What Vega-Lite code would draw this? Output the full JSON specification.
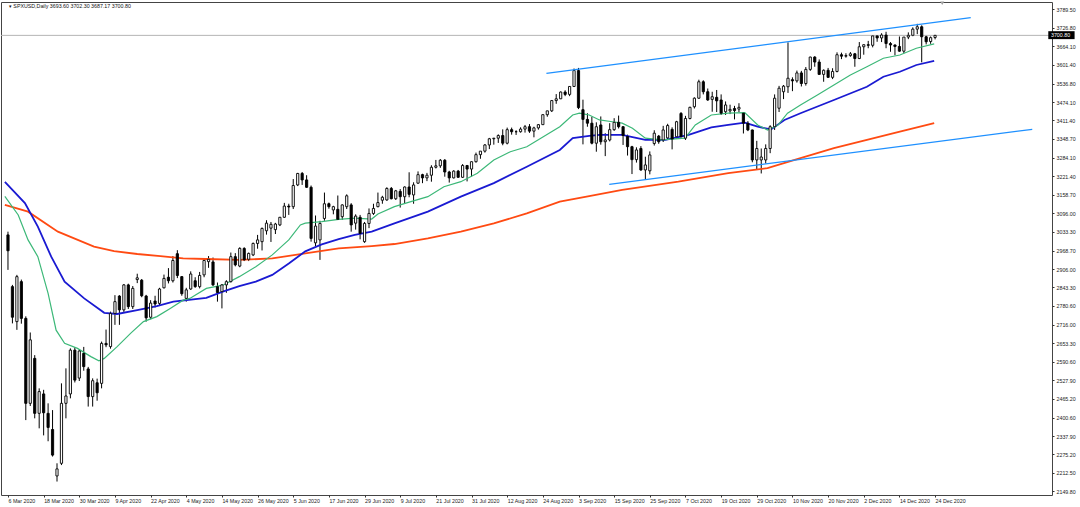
{
  "$schema": "https://vega.github.io/schema/vega-lite/v6.json",
  "width": 1051,
  "height": 493,
  "autosize": {"type": "none"},
  "padding": {"left": 1, "top": 2, "right": 28, "bottom": 12},
  "background": "white",
  "config": {
    "font": "Liberation Sans",
    "view": {"stroke": "#444", "strokeWidth": 1},
    "axis": {"labelOverlap": false, "labelFlush": false, "labelBound": false, "grid": false, "domain": false, "title": null, "tickSize": 2, "tickColor": "#333", "labelFontSize": 5.3, "labelColor": "#222"}
  },
  "datasets": {
    "bars": [
      {"i":0,"o":3022,"h":3033,"l":2903,"c":2968},{"i":1,"o":2846,"h":2852,"l":2721,"c":2742},{"i":2,"o":2727,"h":2886,"l":2699,"c":2880},{"i":3,"o":2863,"h":2870,"l":2720,"c":2738},
      {"i":4,"o":2738,"h":2745,"l":2392,"c":2449},{"i":5,"o":2449,"h":2690,"l":2440,"c":2665},{"i":6,"o":2602,"h":2613,"l":2398,"c":2415},{"i":7,"o":2415,"h":2500,"l":2364,"c":2489},
      {"i":8,"o":2481,"h":2495,"l":2340,"c":2417},{"i":9,"o":2415,"h":2449,"l":2320,"c":2367},{"i":10,"o":2360,"h":2426,"l":2268,"c":2273},{"i":11,"o":2202,"h":2245,"l":2183,"c":2226},
      {"i":12,"o":2245,"h":2517,"l":2239,"c":2449},{"i":13,"o":2449,"h":2568,"l":2398,"c":2474},{"i":14,"o":2481,"h":2636,"l":2466,"c":2630},{"i":15,"o":2630,"h":2640,"l":2520,"c":2528},
      {"i":16,"o":2535,"h":2632,"l":2525,"c":2627},{"i":17,"o":2619,"h":2641,"l":2560,"c":2574},{"i":18,"o":2566,"h":2573,"l":2438,"c":2472},{"i":19,"o":2472,"h":2534,"l":2438,"c":2526},
      {"i":20,"o":2519,"h":2533,"l":2458,"c":2485},{"i":21,"o":2517,"h":2659,"l":2500,"c":2653},{"i":22,"o":2653,"h":2700,"l":2640,"c":2648},{"i":23,"o":2642,"h":2761,"l":2635,"c":2755},
      {"i":24,"o":2755,"h":2817,"l":2716,"c":2795},{"i":25,"o":2814,"h":2817,"l":2716,"c":2767},{"i":26,"o":2767,"h":2855,"l":2760,"c":2852},{"i":27,"o":2852,"h":2856,"l":2770,"c":2778},
      {"i":28,"o":2778,"h":2848,"l":2770,"c":2840},{"i":29,"o":2870,"h":2890,"l":2858,"c":2876},{"i":30,"o":2868,"h":2872,"l":2810,"c":2815},{"i":31,"o":2814,"h":2818,"l":2727,"c":2740},
      {"i":32,"o":2742,"h":2800,"l":2735,"c":2790},{"i":33,"o":2797,"h":2815,"l":2775,"c":2787},{"i":34,"o":2789,"h":2842,"l":2780,"c":2838},{"i":35,"o":2842,"h":2887,"l":2840,"c":2874},
      {"i":36,"o":2878,"h":2909,"l":2857,"c":2866},{"i":37,"o":2866,"h":2950,"l":2860,"c":2935},{"i":38,"o":2958,"h":2970,"l":2875,"c":2884},{"i":39,"o":2880,"h":2882,"l":2815,"c":2822},
      {"i":40,"o":2806,"h":2842,"l":2795,"c":2835},{"i":41,"o":2838,"h":2898,"l":2835,"c":2889},{"i":42,"o":2866,"h":2878,"l":2842,"c":2846},{"i":43,"o":2846,"h":2896,"l":2840,"c":2884},
      {"i":44,"o":2886,"h":2940,"l":2878,"c":2935},{"i":45,"o":2931,"h":2950,"l":2910,"c":2939},{"i":46,"o":2930,"h":2945,"l":2848,"c":2852},{"i":47,"o":2846,"h":2860,"l":2795,"c":2826},
      {"i":48,"o":2829,"h":2855,"l":2772,"c":2852},{"i":49,"o":2852,"h":2868,"l":2825,"c":2863},{"i":50,"o":2863,"h":2962,"l":2860,"c":2948},{"i":51,"o":2948,"h":2960,"l":2915,"c":2920},
      {"i":52,"o":2916,"h":2980,"l":2912,"c":2976},{"i":53,"o":2976,"h":2980,"l":2933,"c":2937},{"i":54,"o":2939,"h":2962,"l":2933,"c":2959},{"i":55,"o":2954,"h":2996,"l":2950,"c":2993},
      {"i":56,"o":2993,"h":3022,"l":2975,"c":3005},{"i":57,"o":2999,"h":3047,"l":2969,"c":3044},{"i":58,"o":3036,"h":3072,"l":3023,"c":3062},{"i":59,"o":3045,"h":3066,"l":2998,"c":3058},
      {"i":60,"o":3040,"h":3063,"l":3025,"c":3059},{"i":61,"o":3056,"h":3083,"l":3052,"c":3082},{"i":62,"o":3082,"h":3131,"l":3080,"c":3120},{"i":63,"o":3120,"h":3128,"l":3090,"c":3117},
      {"i":64,"o":3118,"h":3212,"l":3110,"c":3190},{"i":65,"o":3192,"h":3233,"l":3188,"c":3231},{"i":66,"o":3231,"h":3236,"l":3192,"c":3209},{"i":67,"o":3209,"h":3225,"l":3182,"c":3184},
      {"i":68,"o":3184,"h":3190,"l":2999,"c":3010},{"i":69,"o":2995,"h":3088,"l":2984,"c":3052},{"i":70,"o":3005,"h":3070,"l":2937,"c":3061},{"i":71,"o":3078,"h":3166,"l":3070,"c":3128},
      {"i":72,"o":3128,"h":3132,"l":3111,"c":3118},{"i":73,"o":3107,"h":3121,"l":3092,"c":3118},{"i":74,"o":3109,"h":3156,"l":3073,"c":3075},{"i":75,"o":3084,"h":3126,"l":3073,"c":3124},
      {"i":76,"o":3118,"h":3160,"l":3110,"c":3155},{"i":77,"o":3124,"h":3130,"l":3033,"c":3056},{"i":78,"o":3062,"h":3092,"l":3040,"c":3086},{"i":79,"o":3082,"h":3090,"l":3007,"c":3027},
      {"i":80,"o":2999,"h":3066,"l":2995,"c":3061},{"i":81,"o":3061,"h":3112,"l":3045,"c":3095},{"i":82,"o":3095,"h":3128,"l":3090,"c":3112},{"i":83,"o":3118,"h":3166,"l":3116,"c":3132},
      {"i":84,"o":3140,"h":3155,"l":3128,"c":3150},{"i":85,"o":3141,"h":3184,"l":3138,"c":3180},{"i":86,"o":3180,"h":3185,"l":3143,"c":3145},{"i":87,"o":3145,"h":3175,"l":3141,"c":3172},
      {"i":88,"o":3170,"h":3178,"l":3115,"c":3152},{"i":89,"o":3152,"h":3187,"l":3129,"c":3185},{"i":90,"o":3185,"h":3235,"l":3150,"c":3160},{"i":91,"o":3158,"h":3201,"l":3128,"c":3192},
      {"i":92,"o":3198,"h":3238,"l":3196,"c":3227},{"i":93,"o":3227,"h":3230,"l":3198,"c":3216},{"i":94,"o":3216,"h":3233,"l":3205,"c":3225},{"i":95,"o":3225,"h":3259,"l":3203,"c":3252},
      {"i":96,"o":3252,"h":3277,"l":3248,"c":3257},{"i":97,"o":3257,"h":3280,"l":3250,"c":3276},{"i":98,"o":3276,"h":3280,"l":3220,"c":3236},{"i":99,"o":3236,"h":3240,"l":3200,"c":3216},
      {"i":100,"o":3216,"h":3242,"l":3214,"c":3239},{"i":101,"o":3239,"h":3243,"l":3216,"c":3218},{"i":102,"o":3218,"h":3263,"l":3216,"c":3258},{"i":103,"o":3258,"h":3260,"l":3204,"c":3246},
      {"i":104,"o":3246,"h":3272,"l":3220,"c":3271},{"i":105,"o":3271,"h":3302,"l":3268,"c":3295},{"i":106,"o":3295,"h":3307,"l":3281,"c":3307},{"i":107,"o":3307,"h":3331,"l":3302,"c":3328},
      {"i":108,"o":3328,"h":3352,"l":3314,"c":3349},{"i":109,"o":3349,"h":3352,"l":3329,"c":3351},{"i":110,"o":3351,"h":3364,"l":3335,"c":3360},{"i":111,"o":3360,"h":3381,"l":3327,"c":3334},
      {"i":112,"o":3334,"h":3387,"l":3330,"c":3380},{"i":113,"o":3380,"h":3387,"l":3363,"c":3373},{"i":114,"o":3373,"h":3378,"l":3362,"c":3373},{"i":115,"o":3373,"h":3388,"l":3370,"c":3382},
      {"i":116,"o":3382,"h":3396,"l":3370,"c":3390},{"i":117,"o":3390,"h":3399,"l":3369,"c":3375},{"i":118,"o":3375,"h":3390,"l":3354,"c":3386},{"i":119,"o":3386,"h":3399,"l":3380,"c":3397},
      {"i":120,"o":3397,"h":3432,"l":3396,"c":3431},{"i":121,"o":3431,"h":3444,"l":3424,"c":3444},{"i":122,"o":3444,"h":3481,"l":3440,"c":3479},{"i":123,"o":3479,"h":3501,"l":3468,"c":3485},
      {"i":124,"o":3485,"h":3510,"l":3484,"c":3508},{"i":125,"o":3508,"h":3514,"l":3494,"c":3500},{"i":126,"o":3500,"h":3528,"l":3494,"c":3527},{"i":127,"o":3527,"h":3588,"l":3525,"c":3581},
      {"i":128,"o":3581,"h":3590,"l":3450,"c":3455},{"i":129,"o":3448,"h":3482,"l":3330,"c":3415},{"i":130,"o":3415,"h":3436,"l":3390,"c":3402},{"i":131,"o":3402,"h":3424,"l":3330,"c":3334},
      {"i":132,"o":3334,"h":3405,"l":3305,"c":3390},{"i":133,"o":3396,"h":3425,"l":3329,"c":3339},{"i":134,"o":3339,"h":3368,"l":3290,"c":3345},{"i":135,"o":3345,"h":3402,"l":3340,"c":3380},
      {"i":136,"o":3380,"h":3419,"l":3376,"c":3405},{"i":137,"o":3405,"h":3428,"l":3384,"c":3390},{"i":138,"o":3390,"h":3392,"l":3328,"c":3360},{"i":139,"o":3357,"h":3363,"l":3292,"c":3322},
      {"i":140,"o":3322,"h":3325,"l":3229,"c":3278},{"i":141,"o":3278,"h":3320,"l":3268,"c":3311},{"i":142,"o":3316,"h":3324,"l":3240,"c":3243},{"i":143,"o":3243,"h":3288,"l":3212,"c":3260},
      {"i":144,"o":3240,"h":3306,"l":3228,"c":3294},{"i":145,"o":3333,"h":3378,"l":3326,"c":3368},{"i":146,"o":3358,"h":3362,"l":3332,"c":3339},{"i":147,"o":3345,"h":3393,"l":3338,"c":3379},
      {"i":148,"o":3352,"h":3400,"l":3348,"c":3394},{"i":149,"o":3381,"h":3388,"l":3313,"c":3348},{"i":150,"o":3356,"h":3410,"l":3350,"c":3407},{"i":151,"o":3435,"h":3440,"l":3354,"c":3356},
      {"i":152,"o":3351,"h":3427,"l":3345,"c":3418},{"i":153,"o":3418,"h":3458,"l":3415,"c":3456},{"i":154,"o":3458,"h":3490,"l":3452,"c":3487},{"i":155,"o":3487,"h":3550,"l":3485,"c":3543},
      {"i":156,"o":3543,"h":3548,"l":3500,"c":3509},{"i":157,"o":3509,"h":3520,"l":3478,"c":3481},{"i":158,"o":3483,"h":3509,"l":3441,"c":3492},{"i":159,"o":3490,"h":3515,"l":3440,"c":3478},
      {"i":160,"o":3481,"h":3500,"l":3430,"c":3436},{"i":161,"o":3441,"h":3476,"l":3430,"c":3464},{"i":162,"o":3444,"h":3465,"l":3433,"c":3449},{"i":163,"o":3452,"h":3461,"l":3415,"c":3445},
      {"i":164,"o":3450,"h":3470,"l":3440,"c":3456},{"i":165,"o":3436,"h":3440,"l":3367,"c":3402},{"i":166,"o":3402,"h":3409,"l":3375,"c":3379},{"i":167,"o":3379,"h":3380,"l":3269,"c":3277},
      {"i":168,"o":3277,"h":3342,"l":3245,"c":3316},{"i":169,"o":3277,"h":3316,"l":3231,"c":3287},{"i":170,"o":3277,"h":3330,"l":3265,"c":3316},{"i":171,"o":3316,"h":3395,"l":3300,"c":3390},
      {"i":172,"o":3390,"h":3500,"l":3379,"c":3487},{"i":173,"o":3453,"h":3529,"l":3440,"c":3521},{"i":174,"o":3509,"h":3532,"l":3484,"c":3528},{"i":175,"o":3526,"h":3677,"l":3505,"c":3555},
      {"i":176,"o":3550,"h":3558,"l":3511,"c":3546},{"i":177,"o":3546,"h":3581,"l":3540,"c":3573},{"i":178,"o":3573,"h":3580,"l":3527,"c":3537},{"i":179,"o":3537,"h":3593,"l":3530,"c":3585},
      {"i":180,"o":3585,"h":3628,"l":3580,"c":3627},{"i":181,"o":3627,"h":3630,"l":3594,"c":3610},{"i":182,"o":3610,"h":3619,"l":3567,"c":3568},{"i":183,"o":3568,"h":3585,"l":3543,"c":3582},
      {"i":184,"o":3582,"h":3590,"l":3556,"c":3558},{"i":185,"o":3558,"h":3589,"l":3552,"c":3578},{"i":186,"o":3578,"h":3643,"l":3575,"c":3635},{"i":187,"o":3635,"h":3642,"l":3620,"c":3630},
      {"i":188,"o":3630,"h":3640,"l":3625,"c":3632},{"i":189,"o":3632,"h":3644,"l":3628,"c":3638},{"i":190,"o":3638,"h":3641,"l":3594,"c":3622},{"i":191,"o":3622,"h":3678,"l":3620,"c":3662},
      {"i":192,"o":3662,"h":3670,"l":3635,"c":3669},{"i":193,"o":3669,"h":3682,"l":3657,"c":3667},{"i":194,"o":3667,"h":3700,"l":3660,"c":3699},{"i":195,"o":3699,"h":3702,"l":3679,"c":3692},
      {"i":196,"o":3692,"h":3708,"l":3678,"c":3702},{"i":197,"o":3702,"h":3713,"l":3657,"c":3673},{"i":198,"o":3673,"h":3678,"l":3645,"c":3668},{"i":199,"o":3668,"h":3670,"l":3633,"c":3663},
      {"i":200,"o":3663,"h":3697,"l":3645,"c":3647},{"i":201,"o":3647,"h":3695,"l":3640,"c":3695},{"i":202,"o":3695,"h":3711,"l":3688,"c":3701},{"i":203,"o":3701,"h":3728,"l":3698,"c":3722},
      {"i":204,"o":3722,"h":3740,"l":3705,"c":3730},{"i":205,"o":3730,"h":3735,"l":3609,"c":3696},{"i":206,"o":3696,"h":3702,"l":3670,"c":3679},{"i":207,"o":3680,"h":3697,"l":3672,"c":3693},
      {"i":208,"o":3693.6,"h":3702.3,"l":3687.17,"c":3700.8}
    ],
    "ma": [
      {"m":"r","i":-0.7,"v":3124},{"m":"r","i":4.5,"v":3101},{"m":"r","i":11.2,"v":3033},{"m":"r","i":19.3,"v":2982},{"m":"r","i":23.8,"v":2967},{"m":"r","i":29,"v":2957},
      {"m":"r","i":34.2,"v":2950},{"m":"r","i":39.3,"v":2942},{"m":"r","i":44.4,"v":2940},{"m":"r","i":51.9,"v":2937},{"m":"r","i":59.3,"v":2942},{"m":"r","i":66.7,"v":2959},
      {"m":"r","i":74.2,"v":2976},{"m":"r","i":81.6,"v":2984},{"m":"r","i":86.7,"v":2991},{"m":"r","i":94.2,"v":3010},{"m":"r","i":101.6,"v":3033},{"m":"r","i":109,"v":3061},
      {"m":"r","i":116.4,"v":3095},{"m":"r","i":123.8,"v":3135},{"m":"r","i":130.4,"v":3154},{"m":"r","i":137.8,"v":3175},{"m":"r","i":150.4,"v":3203},{"m":"r","i":161.6,"v":3232},
      {"m":"r","i":170.4,"v":3249},{"m":"r","i":177.8,"v":3283},{"m":"r","i":185.3,"v":3317},{"m":"r","i":192.7,"v":3345},{"m":"r","i":200.1,"v":3373},{"m":"r","i":207.8,"v":3402},
      {"m":"b","i":-0.7,"v":3202},{"m":"b","i":3.8,"v":3130},{"m":"b","i":6.7,"v":3050},{"m":"b","i":9.7,"v":2948},{"m":"b","i":12.7,"v":2863},{"m":"b","i":17.1,"v":2806},
      {"m":"b","i":21.6,"v":2757},{"m":"b","i":24.5,"v":2753},{"m":"b","i":29,"v":2766},{"m":"b","i":33.4,"v":2780},{"m":"b","i":37.1,"v":2795},{"m":"b","i":44.5,"v":2808},
      {"m":"b","i":48.2,"v":2829},{"m":"b","i":51.9,"v":2848},{"m":"b","i":55.6,"v":2863},{"m":"b","i":59.3,"v":2886},{"m":"b","i":63,"v":2925},{"m":"b","i":66.7,"v":2966},
      {"m":"b","i":70.4,"v":2990},{"m":"b","i":74.2,"v":3008},{"m":"b","i":77.8,"v":3022},{"m":"b","i":81.6,"v":3033},{"m":"b","i":86.7,"v":3061},{"m":"b","i":94.2,"v":3101},
      {"m":"b","i":101.6,"v":3152},{"m":"b","i":109,"v":3198},{"m":"b","i":116.4,"v":3254},{"m":"b","i":123.8,"v":3311},{"m":"b","i":126.7,"v":3351},{"m":"b","i":130.4,"v":3359},
      {"m":"b","i":132.7,"v":3362},{"m":"b","i":137.8,"v":3362},{"m":"b","i":143,"v":3345},{"m":"b","i":147.5,"v":3345},{"m":"b","i":152.7,"v":3362},{"m":"b","i":157.8,"v":3388},
      {"m":"b","i":161.6,"v":3396},{"m":"b","i":165.3,"v":3404},{"m":"b","i":168.2,"v":3390},{"m":"b","i":171.2,"v":3381},{"m":"b","i":174.2,"v":3413},{"m":"b","i":177.8,"v":3436},
      {"m":"b","i":185.3,"v":3481},{"m":"b","i":192.7,"v":3526},{"m":"b","i":196.4,"v":3560},{"m":"b","i":200.1,"v":3577},{"m":"b","i":203.8,"v":3600},{"m":"b","i":207.8,"v":3614},
      {"m":"g","i":-0.7,"v":3153},{"m":"g","i":2.3,"v":3090},{"m":"g","i":4.5,"v":3005},{"m":"g","i":6.7,"v":2948},{"m":"g","i":9,"v":2823},{"m":"g","i":10.8,"v":2698},
      {"m":"g","i":12.7,"v":2653},{"m":"g","i":15.6,"v":2636},{"m":"g","i":18.6,"v":2608},{"m":"g","i":20.4,"v":2594},{"m":"g","i":21.6,"v":2602},{"m":"g","i":24.5,"v":2642},
      {"m":"g","i":27.5,"v":2687},{"m":"g","i":30.4,"v":2727},{"m":"g","i":33.4,"v":2744},{"m":"g","i":36.4,"v":2772},{"m":"g","i":39.3,"v":2800},{"m":"g","i":40.8,"v":2806},
      {"m":"g","i":44.5,"v":2840},{"m":"g","i":48.2,"v":2851},{"m":"g","i":51.9,"v":2880},{"m":"g","i":55.6,"v":2914},{"m":"g","i":59.3,"v":2954},{"m":"g","i":63,"v":3005},
      {"m":"g","i":65.6,"v":3056},{"m":"g","i":66.7,"v":3062},{"m":"g","i":70.4,"v":3067},{"m":"g","i":74.2,"v":3075},{"m":"g","i":77.8,"v":3079},{"m":"g","i":81.6,"v":3076},
      {"m":"g","i":83,"v":3093},{"m":"g","i":86.7,"v":3118},{"m":"g","i":90.4,"v":3135},{"m":"g","i":94.2,"v":3152},{"m":"g","i":97.8,"v":3186},{"m":"g","i":101.6,"v":3203},
      {"m":"g","i":105.3,"v":3232},{"m":"g","i":109,"v":3277},{"m":"g","i":112.7,"v":3305},{"m":"g","i":116.4,"v":3322},{"m":"g","i":120.1,"v":3356},{"m":"g","i":123.8,"v":3390},
      {"m":"g","i":126.7,"v":3430},{"m":"g","i":128.2,"v":3436},{"m":"g","i":130.4,"v":3430},{"m":"g","i":132.7,"v":3413},{"m":"g","i":135.6,"v":3407},{"m":"g","i":137.8,"v":3402},
      {"m":"g","i":140.1,"v":3385},{"m":"g","i":143,"v":3351},{"m":"g","i":146.7,"v":3345},{"m":"g","i":151.9,"v":3351},{"m":"g","i":154.2,"v":3396},{"m":"g","i":157.8,"v":3430},
      {"m":"g","i":161.6,"v":3436},{"m":"g","i":165.3,"v":3438},{"m":"g","i":168.2,"v":3396},{"m":"g","i":170.4,"v":3379},{"m":"g","i":172.7,"v":3395},{"m":"g","i":174.9,"v":3436},
      {"m":"g","i":177.8,"v":3464},{"m":"g","i":181.6,"v":3498},{"m":"g","i":185.3,"v":3532},{"m":"g","i":189,"v":3566},{"m":"g","i":192.7,"v":3594},{"m":"g","i":196.4,"v":3623},
      {"m":"g","i":200.1,"v":3634},{"m":"g","i":203.8,"v":3657},{"m":"g","i":207.8,"v":3672}
    ],
    "trend": [
      {"t":"upper","i":120.8,"p":3571.8},{"t":"upper","i":216,"p":3760.9},
      {"t":"lower","i":134.9,"p":3194.2},{"t":"lower","i":229.8,"p":3381.3}
    ]
  },
  "layer": [
    {
      "data": {"name": "bars"},
      "mark": {"type": "rule", "color": "#000", "strokeWidth": 1},
      "encoding": {
        "x": {"field": "i", "type": "quantitative", "scale": {"domain": [-0.444, 233.11], "nice": false, "zero": false},
          "axis": {"labelPadding": 1, "labelAlign": "left", "tickCount": 60,
            "values": [0, 8, 16, 24, 32, 40, 48, 56, 64, 72, 80, 88, 96, 104, 112, 120, 128, 136, 144, 152, 160, 168, 176, 184, 192, 200, 208],
            "labelExpr": "['6 Mar 2020','18 Mar 2020','30 Mar 2020','9 Apr 2020','22 Apr 2020','4 May 2020','14 May 2020','26 May 2020','5 Jun 2020','17 Jun 2020','29 Jun 2020','9 Jul 2020','21 Jul 2020','31 Jul 2020','12 Aug 2020','24 Aug 2020','3 Sep 2020','15 Sep 2020','25 Sep 2020','7 Oct 2020','19 Oct 2020','29 Oct 2020','10 Nov 2020','20 Nov 2020','2 Dec 2020','14 Dec 2020','24 Dec 2020'][round(datum.value / 8)]"}},
        "y": {"field": "l", "type": "quantitative", "scale": {"domain": [2137.2, 3814.3], "nice": false, "zero": false},
          "axis": {"orient": "right", "labelPadding": 2, "format": ".2f", "tickCount": 60,
            "values": [3789.5, 3726.8, 3664.1, 3601.4, 3536.8, 3474.1, 3411.4, 3348.7, 3284.1, 3221.4, 3158.7, 3096.0, 3033.3, 2968.7, 2906.0, 2843.3, 2780.6, 2716.0, 2653.3, 2590.6, 2527.9, 2465.2, 2400.6, 2337.9, 2275.2, 2212.5, 2149.8]}},
        "y2": {"field": "h"}
      }
    },
    {
      "data": {"values": [{}]},
      "mark": {"type": "rule", "color": "#b4b4b4", "strokeWidth": 1},
      "encoding": {
        "y": {"datum": 3700.8, "type": "quantitative"}
      }
    },
    {
      "data": {"name": "ma"},
      "transform": [{"filter": "datum.m == 'r'"}],
      "mark": {"type": "line", "color": "#ff4a12", "strokeWidth": 1.8, "clip": true},
      "encoding": {
        "x": {"field": "i", "type": "quantitative"},
        "y": {"field": "v", "type": "quantitative"}
      }
    },
    {
      "data": {"name": "ma"},
      "transform": [{"filter": "datum.m == 'b'"}],
      "mark": {"type": "line", "color": "#1a1ad2", "strokeWidth": 1.8, "clip": true},
      "encoding": {
        "x": {"field": "i", "type": "quantitative"},
        "y": {"field": "v", "type": "quantitative"}
      }
    },
    {
      "data": {"name": "ma"},
      "transform": [{"filter": "datum.m == 'g'"}],
      "mark": {"type": "line", "color": "#3cb878", "strokeWidth": 1.2, "clip": true},
      "encoding": {
        "x": {"field": "i", "type": "quantitative"},
        "y": {"field": "v", "type": "quantitative"}
      }
    },
    {
      "data": {"name": "bars"},
      "mark": {"type": "bar", "width": 2.2, "stroke": "#000", "strokeWidth": 0.9},
      "encoding": {
        "x": {"field": "i", "type": "quantitative"},
        "y": {"field": "o", "type": "quantitative"},
        "y2": {"field": "c"},
        "fill": {"condition": {"test": "datum.c < datum.o", "value": "#000"}, "value": "#fff"}
      }
    },
    {
      "data": {"name": "trend"},
      "mark": {"type": "line", "color": "#1e90ff", "strokeWidth": 1.2, "clip": true},
      "encoding": {
        "x": {"field": "i", "type": "quantitative"},
        "y": {"field": "p", "type": "quantitative"},
        "detail": {"field": "t"}
      }
    },
    {
      "data": {"values": [{}]},
      "mark": {"type": "point", "shape": "triangle-down", "filled": true, "color": "#a0a0a0", "size": 16, "opacity": 1},
      "encoding": {
        "x": {"datum": 209.6, "type": "quantitative"},
        "y": {"datum": 3810, "type": "quantitative"}
      }
    },
    {
      "data": {"values": [{}]},
      "mark": {"type": "text", "align": "left", "baseline": "middle", "fontSize": 5.3, "color": "#111"},
      "encoding": {
        "x": {"datum": 0.2, "type": "quantitative"},
        "y": {"datum": 3799, "type": "quantitative"},
        "text": {"value": "▾ SPXUSD,Daily  3693.60 3702.30 3687.17 3700.80"}
      }
    },
    {
      "data": {"values": [{}]},
      "mark": {"type": "rect", "color": "#000"},
      "encoding": {
        "x": {"datum": 233.4, "type": "quantitative"},
        "x2": {"datum": 239.3},
        "y": {"datum": 3715, "type": "quantitative"},
        "y2": {"datum": 3688}
      }
    },
    {
      "data": {"values": [{}]},
      "mark": {"type": "text", "align": "left", "baseline": "middle", "fontSize": 5.3, "color": "#fff"},
      "encoding": {
        "x": {"datum": 234.0, "type": "quantitative"},
        "y": {"datum": 3701.5, "type": "quantitative"},
        "text": {"value": "3700.80"}
      }
    }
  ]
}
